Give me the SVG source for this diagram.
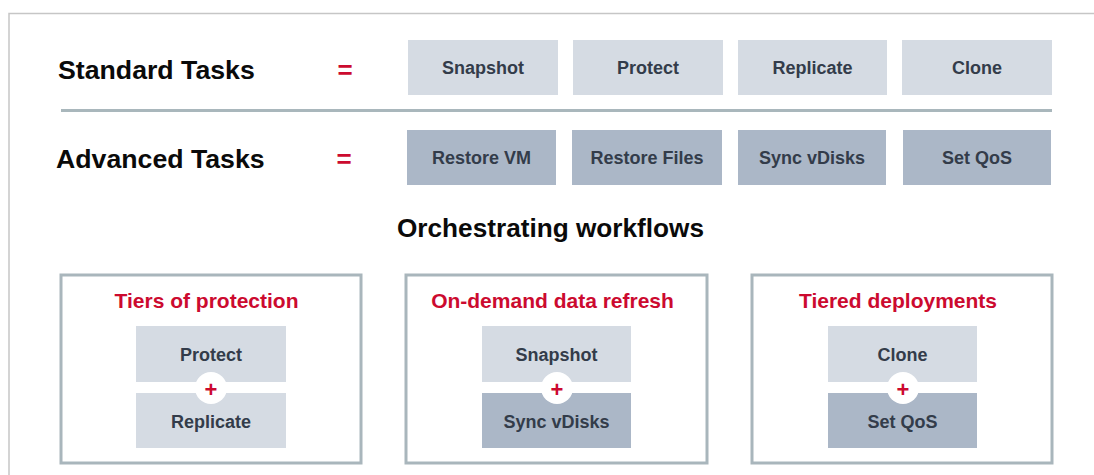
<svg xmlns="http://www.w3.org/2000/svg" width="1094" height="475" viewBox="0 0 1094 475">
<style>
text{font-family:"Liberation Sans",Arial,sans-serif;font-weight:bold}
.head{font-size:26.7px;fill:#0a0a0a}
.eq{font-size:26px;fill:#cc0a2f}
.std{fill:#d5dbe3}
.adv{fill:#abb7c7}
.lbl{font-size:18px;fill:#333c4a;text-anchor:middle}
.wf{fill:#fff;stroke:#a9b6bc;stroke-width:3}
.title{font-size:21px;fill:#cc0a2f;text-anchor:middle}
.plus{font-size:22px;fill:#cc0a2f;text-anchor:middle}
</style>
<rect width="1094" height="475" fill="#fff"/>
<path d="M9,475 V13.5 H1094" fill="none" stroke="#c6c6c6" stroke-width="1.5"/>
<g id="headings">
<text class="head" x="58" y="79">Standard Tasks</text>
<text class="eq" x="345" y="79" text-anchor="middle">=</text>
<text class="head" x="56" y="168">Advanced Tasks</text>
<text class="eq" x="344" y="168" text-anchor="middle">=</text>
<line x1="61" y1="110.5" x2="1052" y2="110.5" stroke="#a9b7bc" stroke-width="3"/>
<text class="head" x="550.5" y="237" text-anchor="middle" style="font-size:26.2px">Orchestrating workflows</text>
</g>
<g id="std-snapshot"><rect class="std" x="408" y="40" width="150" height="55"/><text class="lbl" x="483" y="74">Snapshot</text></g>
<g id="std-protect"><rect class="std" x="573" y="40" width="150" height="55"/><text class="lbl" x="648" y="74">Protect</text></g>
<g id="std-replicate"><rect class="std" x="738" y="40" width="149" height="55"/><text class="lbl" x="812.5" y="74">Replicate</text></g>
<g id="std-clone"><rect class="std" x="902" y="40" width="150" height="55"/><text class="lbl" x="977" y="74">Clone</text></g>
<g id="adv-restorevm"><rect class="adv" x="407" y="130" width="149" height="55"/><text class="lbl" x="481.5" y="164">Restore VM</text></g>
<g id="adv-restorefiles"><rect class="adv" x="572" y="130" width="150" height="55"/><text class="lbl" x="647" y="164">Restore Files</text></g>
<g id="adv-syncvdisks"><rect class="adv" x="738" y="130" width="148" height="55"/><text class="lbl" x="812" y="164">Sync vDisks</text></g>
<g id="adv-setqos"><rect class="adv" x="903" y="130" width="148" height="55"/><text class="lbl" x="977" y="164">Set QoS</text></g>
<g id="wf-tiers">
<rect class="wf" x="61" y="275" width="300" height="188"/>
<text class="title" x="206.5" y="308">Tiers of protection</text>
<rect class="std" x="136" y="326" width="150" height="56"/><text class="lbl" x="211" y="361">Protect</text>
<rect class="std" x="136" y="393" width="150" height="55"/><text class="lbl" x="211" y="428">Replicate</text>
<circle cx="211" cy="388" r="16" fill="#fff"/><text class="plus" x="211" y="397">+</text>
</g>
<g id="wf-refresh">
<rect class="wf" x="406" y="275" width="301" height="188"/>
<text class="title" x="552.5" y="308">On-demand data refresh</text>
<rect class="std" x="482" y="326" width="149" height="56"/><text class="lbl" x="556.5" y="361">Snapshot</text>
<rect class="adv" x="482" y="393" width="149" height="55"/><text class="lbl" x="556.5" y="428">Sync vDisks</text>
<circle cx="557" cy="388" r="16" fill="#fff"/><text class="plus" x="557" y="397">+</text>
</g>
<g id="wf-tiered">
<rect class="wf" x="752" y="275" width="300" height="188"/>
<text class="title" x="898" y="308">Tiered deployments</text>
<rect class="std" x="828" y="326" width="149" height="56"/><text class="lbl" x="902.5" y="361">Clone</text>
<rect class="adv" x="828" y="393" width="149" height="55"/><text class="lbl" x="902.5" y="428">Set QoS</text>
<circle cx="903" cy="388" r="16" fill="#fff"/><text class="plus" x="903" y="397">+</text>
</g>
<g id="connectors"></g>
</svg>
